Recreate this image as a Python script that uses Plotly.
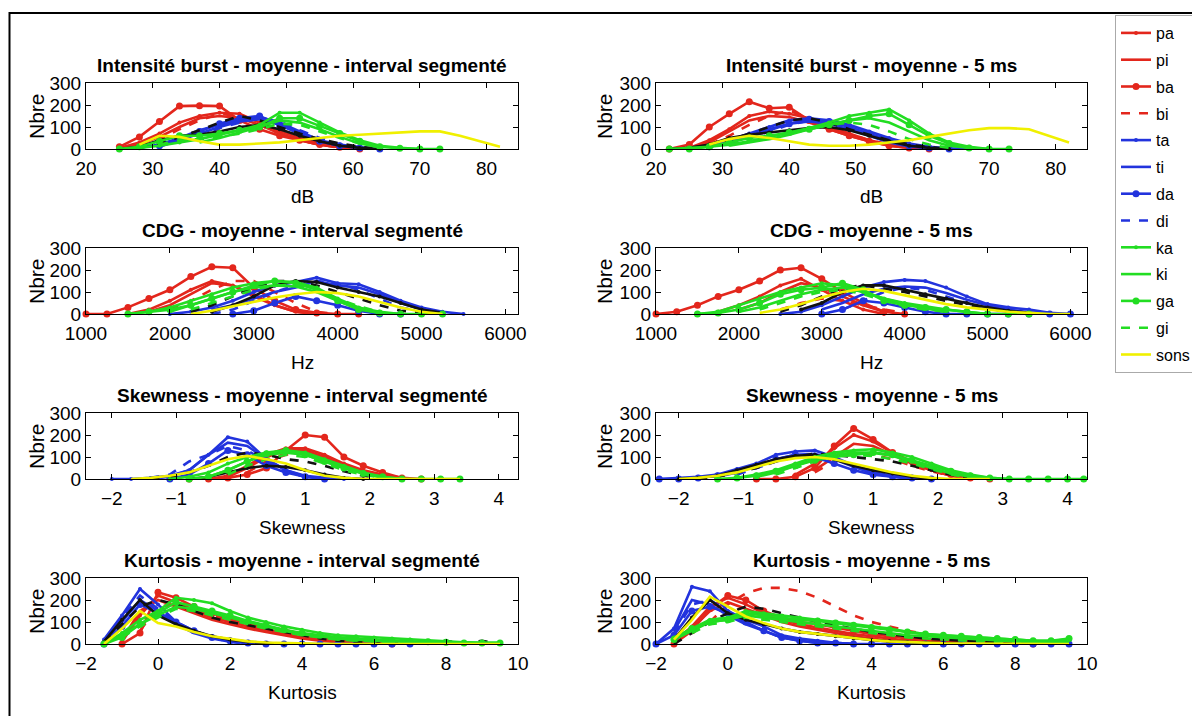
import plotly.graph_objects as go

# ---------------- data (bin centres + counts per series) ----------------
LEGEND_NAMES = ["pa", "pi", "ba", "bi", "ta", "ti", "da", "di", "ka", "ki", "ga", "gi", "sons"]
EXTRA_NAMES = ["k1", "k2"]  # black curves not listed in legend

INT_SEG_X = [25, 28, 31, 34, 37, 40, 43, 46, 49, 52, 55, 58, 61, 64, 67, 70, 73, 76, 79, 82]
INT_SEG = {
    "pa": (0, [5, 30, 70, 120, 150, 165, 160, 120, 80, 50, 25, 10, 2]),
    "pi": (0, [0, 20, 55, 100, 140, 150, 140, 110, 70, 40, 20, 8, 0]),
    "ba": (0, [10, 55, 125, 195, 197, 195, 130, 90, 60, 40, 20, 8, 0]),
    "bi": (1, [15, 45, 90, 130, 160, 150, 110, 70, 40, 20, 5]),
    "ta": (1, [5, 20, 50, 85, 110, 130, 145, 120, 80, 40, 20, 8, 0]),
    "ti": (2, [10, 40, 70, 100, 125, 135, 110, 70, 35, 15, 5]),
    "da": (2, [15, 45, 80, 115, 140, 150, 110, 70, 35, 15, 5, 0]),
    "di": (3, [30, 60, 95, 120, 140, 125, 85, 50, 20, 8]),
    "ka": (0, [0, 5, 15, 30, 45, 65, 85, 110, 165, 165, 120, 75, 40, 15, 5, 0]),
    "ki": (4, [30, 50, 75, 100, 130, 120, 90, 55, 25, 8]),
    "ga": (0, [0, 10, 35, 60, 60, 70, 85, 100, 140, 140, 105, 70, 35, 10, 3, 0, 0]),
    "gi": (2, [20, 40, 45, 55, 70, 90, 115, 110, 80, 50, 25, 8]),
    "sons": (1, [20, 60, 55, 35, 20, 20, 25, 30, 40, 50, 60, 65, 70, 75, 80, 80, 60, 35, 10]),
    "k1": (1, [5, 25, 55, 85, 120, 150, 130, 100, 70, 45, 25, 10, 2]),
    "k2": (0, [0, 10, 40, 60, 65, 80, 100, 110, 90, 60, 35, 15, 5, 0]),
}

INT_5_X = [22, 25, 28, 31, 34, 37, 40, 43, 46, 49, 52, 55, 58, 61, 64, 67, 70, 73, 76, 79, 82]
INT_5 = {
    "pa": (1, [5, 40, 90, 150, 170, 160, 140, 100, 70, 40, 20, 8, 0]),
    "pi": (1, [0, 30, 80, 130, 150, 145, 120, 90, 60, 35, 15, 5]),
    "ba": (0, [0, 20, 100, 160, 215, 185, 190, 130, 90, 60, 35, 15, 5, 0]),
    "bi": (2, [20, 60, 110, 150, 175, 140, 100, 70, 40, 20, 5]),
    "ta": (1, [5, 15, 40, 70, 100, 130, 140, 130, 110, 80, 50, 25, 10, 3, 0]),
    "ti": (2, [10, 30, 60, 90, 115, 125, 115, 90, 60, 30, 12, 3]),
    "da": (2, [10, 30, 55, 85, 115, 135, 125, 100, 70, 40, 15, 5, 0]),
    "di": (3, [20, 50, 80, 110, 130, 120, 95, 65, 35, 15, 5]),
    "ka": (0, [0, 5, 10, 20, 35, 55, 75, 95, 120, 150, 165, 180, 130, 70, 30, 10, 0]),
    "ki": (3, [15, 30, 45, 65, 90, 110, 130, 140, 120, 80, 40, 15, 5]),
    "ga": (0, [0, 0, 10, 30, 50, 60, 75, 90, 110, 130, 150, 160, 110, 60, 25, 5, 0, 0]),
    "gi": (3, [20, 35, 50, 70, 90, 110, 120, 110, 80, 45, 20, 5]),
    "sons": (2, [20, 45, 60, 50, 35, 20, 15, 15, 20, 30, 40, 55, 70, 85, 95, 95, 90, 60, 30]),
    "k1": (1, [5, 15, 40, 70, 100, 130, 140, 120, 90, 65, 40, 20, 8, 0]),
    "k2": (0, [0, 5, 20, 50, 65, 75, 85, 95, 100, 85, 60, 35, 15, 5, 0]),
}

CDG_SEG_X = [1000, 1250, 1500, 1750, 2000, 2250, 2500, 2750, 3000, 3250, 3500, 3750,
             4000, 4250, 4500, 4750, 5000, 5250, 5500]
CDG_SEG = {
    "pa": (2, [0, 20, 60, 110, 150, 130, 80, 40, 10, 0]),
    "pi": (3, [10, 40, 90, 140, 130, 90, 40, 10, 0]),
    "ba": (0, [0, 0, 30, 70, 110, 170, 215, 210, 120, 60, 20, 5, 0, 0]),
    "bi": (4, [20, 60, 110, 150, 150, 100, 50, 10, 0]),
    "ta": (4, [0, 10, 30, 60, 100, 130, 145, 165, 140, 135, 100, 60, 30, 10, 0]),
    "ti": (6, [20, 40, 70, 100, 120, 150, 130, 120, 90, 50, 20, 5]),
    "da": (7, [0, 15, 50, 80, 60, 40, 15, 0, 0]),
    "di": (6, [0, 20, 60, 100, 130, 150, 140, 110, 70, 30, 10]),
    "ka": (2, [0, 10, 30, 60, 90, 120, 140, 150, 145, 120, 70, 30, 10, 0]),
    "ki": (4, [10, 40, 70, 100, 120, 130, 125, 100, 60, 25, 5]),
    "ga": (2, [0, 10, 20, 40, 70, 100, 130, 150, 140, 110, 60, 20, 5, 0, 0, 0]),
    "gi": (5, [20, 50, 80, 110, 130, 130, 110, 70, 35, 10]),
    "sons": (5, [0, 15, 35, 55, 75, 90, 100, 95, 80, 55, 30, 10, 0]),
    "k1": (5, [10, 40, 80, 120, 150, 150, 130, 100, 70, 40, 15, 5]),
    "k2": (6, [10, 40, 80, 130, 150, 145, 120, 100, 80, 50, 20, 5]),
}

CDG_5_X = [1000, 1250, 1500, 1750, 2000, 2250, 2500, 2750, 3000, 3250, 3500, 3750,
           4000, 4250, 4500, 4750, 5000, 5250, 5500, 5750, 6000]
CDG_5 = {
    "pa": (3, [10, 40, 80, 130, 160, 110, 60, 20, 0]),
    "pi": (4, [20, 50, 100, 140, 120, 80, 40, 10]),
    "ba": (0, [0, 10, 40, 80, 110, 150, 200, 210, 160, 100, 50, 10, 0]),
    "bi": (6, [20, 50, 70, 60, 40, 20, 5]),
    "ta": (6, [0, 10, 40, 80, 120, 145, 155, 150, 120, 80, 45, 30, 20, 5, 0]),
    "ti": (8, [20, 50, 90, 115, 125, 120, 95, 65, 40, 20, 8, 0]),
    "da": (8, [0, 20, 60, 50, 30, 10, 0, 0, 0, 0, 0, 0, 0]),
    "di": (9, [20, 60, 100, 120, 110, 80, 50, 25, 10, 0]),
    "ka": (2, [0, 10, 40, 70, 100, 120, 140, 130, 100, 70, 50, 35, 20, 10, 0]),
    "ki": (4, [10, 30, 60, 90, 110, 120, 100, 70, 45, 25, 10]),
    "ga": (2, [0, 5, 20, 50, 90, 110, 120, 140, 110, 60, 40, 30, 20, 10, 0, 0, 0]),
    "gi": (5, [20, 50, 80, 100, 110, 90, 60, 35, 20, 10]),
    "sons": (5, [5, 20, 45, 75, 100, 115, 105, 85, 65, 45, 30, 20, 10, 5, 0, 0]),
    "k1": (6, [10, 40, 80, 120, 130, 115, 100, 80, 60, 40, 25, 10, 0]),
    "k2": (7, [20, 50, 100, 130, 130, 110, 90, 70, 50, 30, 15, 5]),
}

SKEW_SEG_X = [-2.0, -1.7, -1.4, -1.1, -0.8, -0.5, -0.2, 0.1, 0.4, 0.7, 1.0, 1.3, 1.6,
              1.9, 2.2, 2.5, 2.8, 3.1, 3.4]
SKEW_SEG = {
    "ta": (0, [0, 0, 5, 15, 40, 110, 190, 170, 90, 40, 15, 5, 0]),
    "ti": (2, [0, 10, 40, 110, 165, 150, 90, 40, 10, 0]),
    "da": (3, [0, 20, 70, 130, 110, 60, 30, 10, 0]),
    "di": (2, [5, 20, 80, 110, 150, 130, 80, 30, 10]),
    "ba": (4, [0, 0, 5, 20, 50, 130, 200, 190, 100, 60, 30, 5, 0]),
    "pa": (5, [0, 15, 60, 110, 140, 140, 110, 70, 40, 20, 5]),
    "pi": (6, [10, 50, 100, 130, 130, 100, 60, 30, 10]),
    "bi": (7, [30, 80, 110, 120, 90, 60, 30, 10]),
    "ka": (3, [0, 10, 30, 70, 100, 120, 130, 120, 90, 60, 30, 10, 0]),
    "ki": (5, [10, 40, 80, 110, 120, 110, 80, 50, 25, 5]),
    "ga": (4, [0, 10, 40, 80, 115, 130, 110, 80, 50, 25, 10, 0, 0, 0, 0]),
    "gi": (6, [20, 60, 90, 110, 100, 70, 40, 20, 5]),
    "sons": (1, [0, 5, 15, 30, 60, 90, 105, 90, 70, 40, 15, 5, 0, 0, 0, 0, 0, 0]),
    "k1": (2, [0, 10, 30, 60, 100, 120, 110, 90, 80, 60, 35, 15, 5]),
    "k2": (4, [0, 10, 30, 50, 60, 55, 40, 20, 5, 0]),
}

SKEW_5_X = [-2.3, -2.0, -1.7, -1.4, -1.1, -0.8, -0.5, -0.2, 0.1, 0.4, 0.7, 1.0, 1.3,
            1.6, 1.9, 2.2, 2.5, 2.8, 3.1, 3.4, 3.7, 4.0, 4.25]
SKEW_5 = {
    "ta": (0, [0, 5, 10, 20, 45, 70, 110, 125, 130, 100, 60, 30, 15, 5, 0]),
    "ti": (3, [10, 30, 60, 90, 110, 115, 90, 55, 25, 10, 0]),
    "da": (0, [0, 0, 5, 15, 35, 60, 90, 110, 100, 70, 40, 20, 10, 5, 0]),
    "di": (4, [20, 50, 80, 100, 110, 90, 60, 30, 10]),
    "ba": (5, [0, 0, 10, 50, 150, 230, 180, 120, 80, 50, 20, 5, 0]),
    "pa": (7, [20, 70, 140, 200, 170, 120, 70, 40, 15, 0]),
    "pi": (8, [40, 100, 160, 150, 110, 70, 40, 15]),
    "bi": (8, [30, 80, 120, 110, 90, 60, 35, 15, 5]),
    "ka": (4, [5, 20, 40, 70, 100, 120, 130, 135, 120, 100, 70, 40, 20, 5, 0]),
    "ki": (5, [10, 30, 60, 90, 110, 120, 120, 105, 80, 50, 25, 10, 0]),
    "ga": (3, [0, 5, 15, 35, 60, 85, 100, 110, 120, 110, 85, 60, 35, 15, 5, 0, 0, 0, 0, 0]),
    "gi": (6, [20, 50, 80, 100, 110, 105, 90, 70, 45, 20, 5]),
    "sons": (1, [0, 5, 15, 30, 55, 80, 95, 100, 90, 70, 50, 30, 15, 5, 0, 0, 0]),
    "k1": (2, [0, 10, 30, 50, 80, 100, 115, 110, 100, 90, 80, 60, 40, 20, 5, 0]),
    "k2": (1, [0, 5, 15, 40, 65, 90, 105, 110, 90, 60, 40, 25, 10, 0]),
}

KURT_SEG_X = [-1.5, -1.0, -0.5, 0.0, 0.5, 1.0, 1.5, 2.0, 2.5, 3.0, 3.5, 4.0, 4.5, 5.0,
              5.5, 6.0, 6.5, 7.0, 7.5, 8.0, 8.5, 9.0, 9.5]
KURT_SEG = {
    "ta": (0, [20, 130, 250, 180, 100, 60, 30, 15, 5, 0]),
    "ti": (0, [10, 100, 200, 150, 90, 50, 25, 10, 5, 0]),
    "da": (0, [0, 80, 180, 140, 100, 60, 30, 15, 5, 0, 0, 0, 0, 0, 0, 0, 0, 0]),
    "di": (0, [10, 120, 220, 160, 100, 60, 30, 10, 0]),
    "ba": (1, [0, 50, 235, 210, 170, 140, 110, 95, 80, 65, 45, 30, 20, 10, 5, 0]),
    "pa": (1, [10, 130, 220, 190, 150, 120, 100, 80, 60, 45, 30, 20, 10, 5, 0]),
    "pi": (1, [20, 150, 200, 170, 140, 110, 90, 70, 55, 40, 25, 15, 8, 0]),
    "bi": (2, [60, 170, 180, 160, 130, 105, 85, 65, 50, 35, 20, 10, 5, 3, 0]),
    "ka": (0, [0, 50, 110, 150, 210, 200, 185, 150, 120, 100, 80, 65, 50, 40, 35, 30, 25, 20, 15, 10, 8, 5, 5]),
    "ki": (0, [0, 40, 90, 130, 170, 160, 140, 120, 100, 80, 60, 45, 35, 25, 20, 15, 12, 10, 8, 5, 3, 2, 0]),
    "ga": (0, [0, 30, 90, 140, 190, 170, 150, 130, 105, 85, 65, 50, 40, 30, 25, 20, 15, 12, 10, 8, 5, 5, 5]),
    "gi": (1, [30, 80, 120, 160, 150, 130, 110, 90, 70, 55, 40, 30, 20, 15, 10, 8, 5, 3, 2, 0]),
    "sons": (0, [0, 70, 150, 95, 80, 55, 35, 22, 12, 7, 4, 2, 1, 0, 0, 0, 0, 0, 0, 0, 0, 0, 0]),
    "k1": (0, [10, 90, 170, 200, 180, 150, 120, 100, 85, 70, 55, 40, 25, 15, 10, 5, 3, 2, 1, 15, 1, 15, 0]),
    "k2": (0, [10, 110, 200, 130, 90, 60, 35, 20, 10, 5, 0]),
}

KURT_5_X = [-2.0, -1.5, -1.0, -0.5, 0.0, 0.5, 1.0, 1.5, 2.0, 2.5, 3.0, 3.5, 4.0, 4.5,
            5.0, 5.5, 6.0, 6.5, 7.0, 7.5, 8.0, 8.5, 9.0, 9.5]
KURT_5 = {
    "ta": (0, [0, 70, 260, 240, 150, 110, 80, 40, 25, 15, 5, 0]),
    "ti": (1, [60, 200, 180, 130, 90, 60, 30, 15, 5, 0]),
    "da": (0, [0, 40, 150, 170, 140, 100, 60, 30, 15, 5, 5, 0, 0, 0, 0, 0, 0, 0, 0, 0, 0, 0, 0, 0]),
    "di": (1, [50, 180, 200, 150, 100, 60, 30, 20, 10, 5, 0]),
    "ba": (1, [0, 60, 160, 220, 200, 150, 120, 100, 90, 75, 60, 45, 35, 25, 20, 15, 10, 8, 5, 3, 0]),
    "pa": (1, [10, 80, 170, 210, 180, 140, 110, 90, 75, 60, 45, 35, 25, 15, 10, 5, 3, 0]),
    "pi": (2, [70, 150, 190, 160, 130, 100, 80, 65, 50, 35, 25, 15, 10, 5, 0]),
    "bi": (3, [100, 180, 230, 255, 255, 240, 210, 170, 130, 100, 80, 60, 45, 30, 20, 12, 8, 5, 2, 0]),
    "ka": (1, [30, 70, 110, 120, 150, 140, 130, 120, 110, 100, 90, 80, 70, 55, 45, 40, 35, 30, 25, 20, 15, 15, 20]),
    "ki": (1, [20, 60, 100, 110, 130, 120, 110, 100, 90, 80, 70, 60, 50, 40, 35, 30, 25, 20, 15, 12, 10, 8, 10]),
    "ga": (1, [20, 70, 100, 110, 140, 130, 120, 110, 105, 95, 85, 75, 65, 55, 45, 40, 35, 30, 25, 20, 15, 15, 25]),
    "gi": (2, [50, 90, 100, 120, 110, 100, 90, 80, 70, 60, 50, 40, 30, 25, 20, 15, 12, 10, 8, 5, 5]),
    "sons": (1, [20, 110, 215, 170, 125, 95, 70, 55, 45, 35, 25, 18, 12, 8, 5, 3, 2, 1, 0, 0, 0, 0, 0]),
    "k1": (1, [0, 50, 100, 140, 170, 160, 140, 120, 100, 85, 70, 55, 45, 35, 25, 20, 15, 10, 8, 5, 3]),
    "k2": (1, [20, 120, 200, 140, 110, 90, 70, 55, 45, 35, 25, 18, 12, 8, 5, 3, 0]),
}

TITLES = [
    "Intensité burst - moyenne - interval segmenté", "Intensité burst - moyenne - 5 ms",
    "CDG - moyenne - interval segmenté", "CDG - moyenne - 5 ms",
    "Skewness - moyenne - interval segmenté", "Skewness - moyenne - 5 ms",
    "Kurtosis - moyenne - interval segmenté", "Kurtosis - moyenne - 5 ms",
]
XLABELS = ["dB", "dB", "Hz", "Hz", "Skewness", "Skewness", "Kurtosis", "Kurtosis"]
YLABEL = "Nbre"
XRANGES = [[20, 84.7], [20, 84.7], [1000, 6150], [1000, 6200],
           [-2.4, 4.3], [-2.35, 4.3], [-2, 10], [-2, 10]]
XTICKS = [[20, 30, 40, 50, 60, 70, 80]] * 2 + [[1000, 2000, 3000, 4000, 5000, 6000]] * 2 + \
         [[-2, -1, 0, 1, 2, 3, 4]] * 2 + [[-2, 0, 2, 4, 6, 8, 10]] * 2
YTICKS = [0, 100, 200, 300]

PANELS = [(INT_SEG_X, INT_SEG), (INT_5_X, INT_5), (CDG_SEG_X, CDG_SEG), (CDG_5_X, CDG_5),
          (SKEW_SEG_X, SKEW_SEG), (SKEW_5_X, SKEW_5), (KURT_SEG_X, KURT_SEG), (KURT_5_X, KURT_5)]

# ---------------- styles ----------------
RED, BLUE, GREEN, YEL, BLK = "#e3261c", "#2233dd", "#22dd22", "#f0f000", "#111111"
STYLE = {
    "pa": (RED, "solid", "small"), "pi": (RED, "solid", None), "ba": (RED, "solid", "big"),
    "bi": (RED, "dash", None),
    "ta": (BLUE, "solid", "small"), "ti": (BLUE, "solid", None), "da": (BLUE, "solid", "big"),
    "di": (BLUE, "dash", None),
    "ka": (GREEN, "solid", "small"), "ki": (GREEN, "solid", None), "ga": (GREEN, "solid", "big"),
    "gi": (GREEN, "dash", None),
    "sons": (YEL, "solid", None),
    "k1": (BLK, "dash", None), "k2": (BLK, "solid", "small"),
}
DRAW_ORDER = ["pa", "pi", "ba", "bi", "ta", "ti", "da", "di", "k1", "k2",
              "ka", "ki", "ga", "gi", "sons"]

# page body has an 8px margin: the figure starts at (8, 8) in the window
OFF = 8
W, H = 1200 - OFF, 716 - OFF
FONT = "Liberation Sans, Arial, sans-serif"
COLS = [(86, 518), (656, 1087)]
ROW_TOP = [83, 248, 413, 578]
ROW_BOT = [149, 314, 479, 644]


def px(x):
    return (x - OFF) / W


def py(y):
    return 1 - (y - OFF) / H


fig = go.Figure()

for p, (bins, series) in enumerate(PANELS):
    r, c = divmod(p, 2)
    k = p + 1
    xa = "x" if k == 1 else f"x{k}"
    ya = "y" if k == 1 else f"y{k}"
    for name in DRAW_ORDER:
        start, vals = series[name]
        xs = bins[start:start + len(vals)]
        color, dash, mk = STYLE[name]
        mode = "lines+markers" if mk else "lines"
        marker = dict(color=color, size=7 if mk == "big" else 4, symbol="circle")
        fig.add_trace(go.Scatter(
            x=xs, y=vals, xaxis=xa, yaxis=ya, mode=mode, name=name,
            line=dict(color=color, width=2.6, dash=dash),
            marker=marker, cliponaxis=False,
            legendgroup=name, showlegend=(p == 0 and name in LEGEND_NAMES),
            hoverinfo="skip",
        ))
    x0, x1 = COLS[c]
    axis_common = dict(showline=True, linecolor="black", linewidth=1.2, mirror="ticks",
                       ticks="inside", ticklen=5, tickcolor="black", showgrid=False,
                       zeroline=False, automargin=False,
                       tickfont=dict(family=FONT, size=19, color="black"))
    fig.layout[f"xaxis{'' if k == 1 else k}"] = dict(
        domain=[px(x0), px(x1)], range=XRANGES[p], tickvals=XTICKS[p], anchor=ya,
        ticklabelstandoff=2, **axis_common)
    fig.layout[f"yaxis{'' if k == 1 else k}"] = dict(
        domain=[py(ROW_BOT[r]), py(ROW_TOP[r])], range=[0, 300], tickvals=YTICKS,
        anchor=xa, **axis_common)
    cx = (x0 + x1) / 2
    fig.add_annotation(x=px(cx), y=py(ROW_TOP[r] - 18), xref="paper", yref="paper",
                       text=f"<b>{TITLES[p]}</b>", showarrow=False, xanchor="center",
                       yanchor="middle", font=dict(family=FONT, size=19, color="black"))
    fig.add_annotation(x=px(cx), y=py(ROW_BOT[r] + 48), xref="paper", yref="paper",
                       text=XLABELS[p], showarrow=False, xanchor="center", yanchor="middle",
                       font=dict(family=FONT, size=19, color="black"))
    fig.add_annotation(x=px(36 if c == 0 else 604), y=py((ROW_TOP[r] + ROW_BOT[r]) / 2),
                       xref="paper", yref="paper", text=YLABEL, textangle=-90, showarrow=False,
                       xanchor="center", yanchor="middle",
                       font=dict(family=FONT, size=21, color="black"))

# outer frame (left and top edges visible)
fig.add_shape(type="rect", xref="paper", yref="paper", x0=px(9.5), x1=1.02, y0=-0.02,
              y1=py(13), line=dict(color="black", width=2))

fig.update_layout(
    width=W, height=H, autosize=False,
    margin=dict(l=0, r=0, t=0, b=0, pad=0, autoexpand=False),
    paper_bgcolor="white", plot_bgcolor="white",
    showlegend=True,
    legend=dict(x=px(1196), y=py(15), xanchor="right", yanchor="top",
                bgcolor="white", bordercolor="#aaaaaa", borderwidth=1,
                font=dict(family=FONT, size=16, color="black"),
                tracegroupgap=3, itemwidth=30),
)

fig.write_html("out.html")
